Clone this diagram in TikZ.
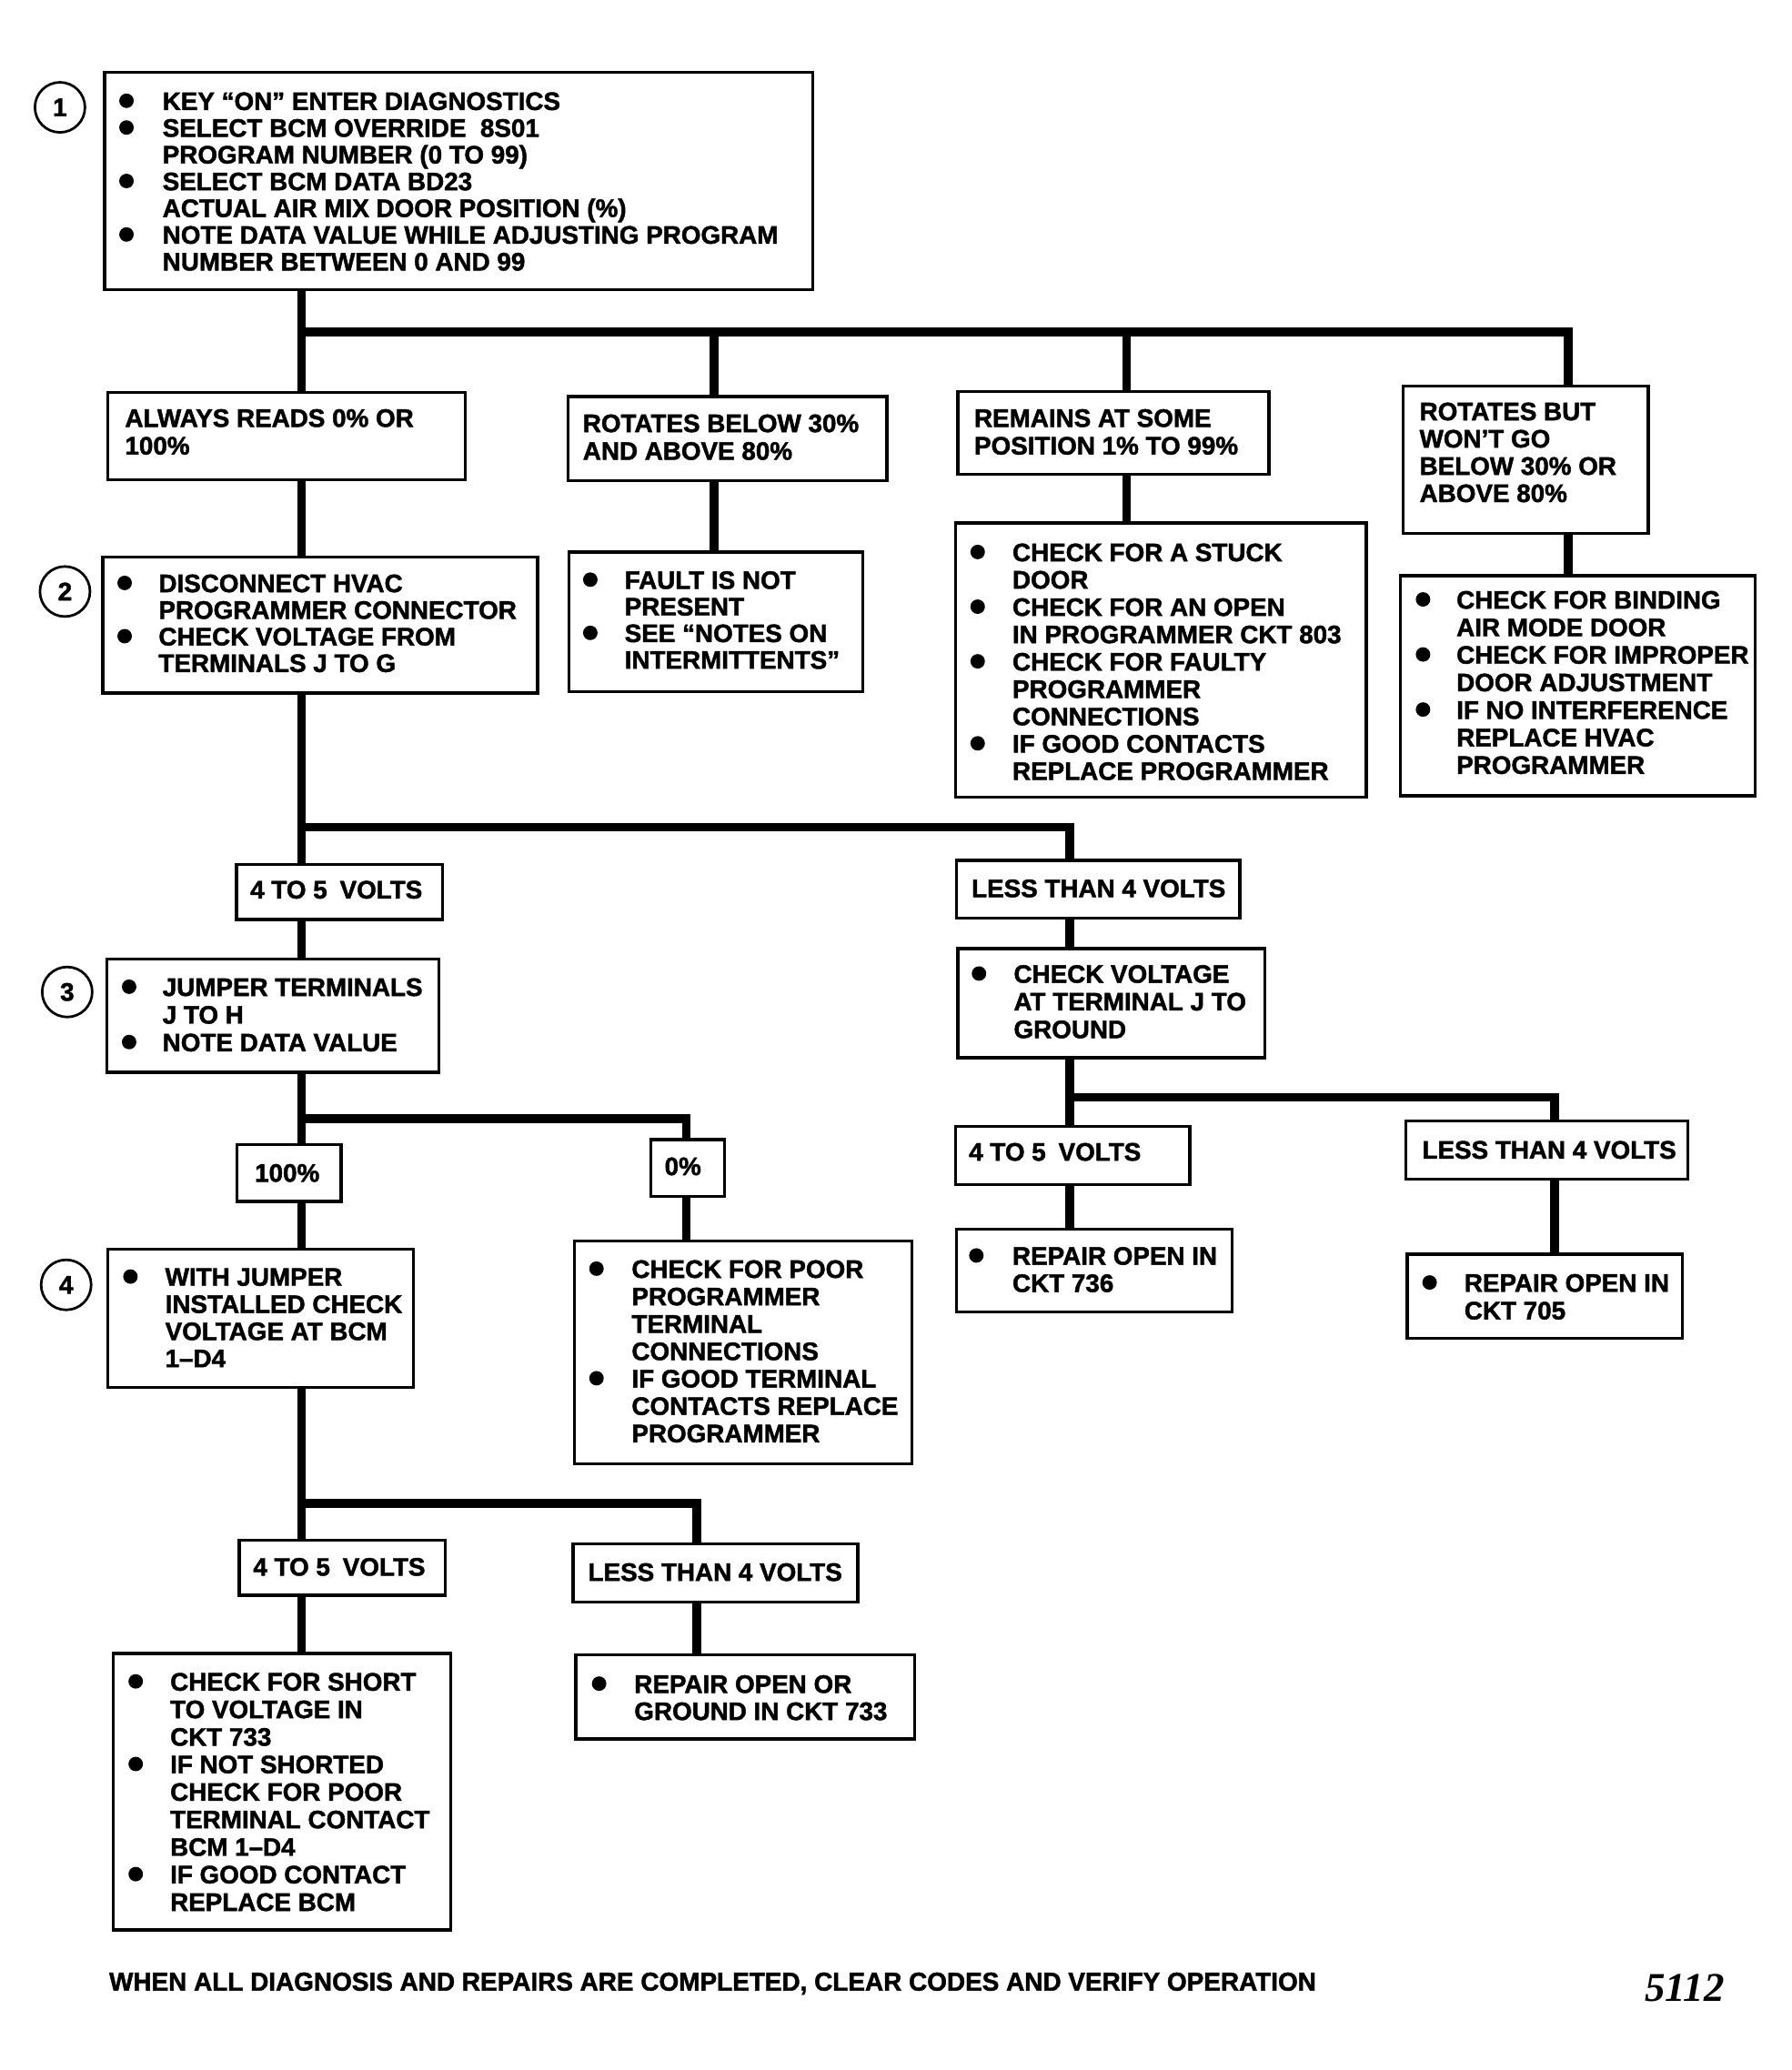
\documentclass[tikz,border=0pt]{standalone}
\usepackage{fontspec}
\setmainfont{Liberation Sans}[BoldFeatures={FakeBold=1.6}]
\newfontfamily\numfont{Liberation Serif}
\usepackage{graphicx}
\usetikzlibrary{fit}
\tikzset{
  boxn/.style={draw, line width=1.15pt, inner sep=0pt},
  conn/.style={line width=3.3pt},
  txt/.style={anchor=base west, inner sep=0pt},
  numc/.style={circle, draw, line width=0.95pt, minimum size=19pt, inner sep=0pt,
    font=\fontsize{9.6}{10}\selectfont\bfseries},
}
\newcommand\bx[5]{\node[boxn, fit={(#2,#3) (#4,#5)}] (#1) {};}
\newcommand\tb[5]{\node[txt, font=\fontsize{9.6}{#4}\selectfont\bfseries] (#1) at (#2,#3)
  {\begin{tabular}[t]{@{}l@{}}#5\end{tabular}};}
\newcommand\bu[4]{\foreach \k in {#4}{\fill (#1,{#2-7+\k*#3}) circle[radius=2.75pt];}}
\begin{document}
\begin{tikzpicture}[x=0.5pt,y=-0.5pt]
\path[fill=white, use as bounding box] (0,0) rectangle (1360,1571.3);

% ---- step 1
\bx{b1}{79.5}{55}{617}{220}
\tb{t1}{123}{83.5}{10.15pt}{KEY “ON” ENTER DIAGNOSTICS\\SELECT BCM OVERRIDE\ \ 8S01\\PROGRAM NUMBER (0 TO 99)\\SELECT BCM DATA BD23\\ACTUAL AIR MIX DOOR POSITION (\%)\\NOTE DATA VALUE WHILE ADJUSTING PROGRAM\\NUMBER BETWEEN 0 AND 99}
\bu{96}{83.5}{20.3}{0,1,3,5}
\node[numc] (n1) at (45.5,81.5) {1};

% ---- first branch
\bx{b2a}{82}{298}{353}{364}
\tb{t2a}{94.5}{324}{10.5pt}{ALWAYS READS 0\% OR\\100\%}
\bx{b2b}{431}{301}{673}{365}
\tb{t2b}{442}{328}{10.5pt}{ROTATES BELOW 30\%\\AND ABOVE 80\%}
\bx{b2c}{727}{297}{963}{360}
\tb{t2c}{739}{324}{10.5pt}{REMAINS AT SOME\\POSITION 1\% TO 99\%}
\bx{b2d}{1065}{293}{1251}{405}
\tb{t2d}{1077}{319}{10.35pt}{ROTATES BUT\\WON’T GO\\BELOW 30\% OR\\ABOVE 80\%}

% ---- step 2 row
\bx{b3a}{78}{423}{408}{526}
\tb{t3a}{120}{449.5}{10.1pt}{DISCONNECT HVAC\\PROGRAMMER CONNECTOR\\CHECK VOLTAGE FROM\\TERMINALS J TO G}
\bu{94.6}{449.5}{20.2}{0,2}
\node[numc] (n2) at (49.3,449) {2};
\bx{b3b}{432}{419}{655}{525}
\tb{t3b}{473.7}{447}{10.1pt}{FAULT IS NOT\\PRESENT\\SEE “NOTES ON\\INTERMITTENTS”}
\bu{448}{447}{20.2}{0,2}
\bx{b3c}{725}{397}{1037}{605}
\tb{t3c}{768}{426}{10.375pt}{CHECK FOR A STUCK\\DOOR\\CHECK FOR AN OPEN\\IN PROGRAMMER CKT 803\\CHECK FOR FAULTY\\PROGRAMMER\\CONNECTIONS\\IF GOOD CONTACTS\\REPLACE PROGRAMMER}
\bu{742}{426}{20.75}{0,2,4,7}
\bx{b3d}{1063}{437}{1332}{604}
\tb{t3d}{1105}{462}{10.45pt}{CHECK FOR BINDING\\AIR MODE DOOR\\CHECK FOR IMPROPER\\DOOR ADJUSTMENT\\IF NO INTERFERENCE\\REPLACE HVAC\\PROGRAMMER}
\bu{1080}{462}{20.9}{0,2,4}

% ---- voltage results
\bx{b4a}{179.5}{656}{336}{698}
\tb{t4a}{189.6}{682}{10pt}{4 TO 5\hspace{4.8pt}VOLTS}
\bx{b4b}{726}{653}{941}{697}
\tb{t4b}{737}{681}{10pt}{LESS THAN 4 VOLTS}

% ---- step 3 row
\bx{b5a}{81}{728}{333}{814}
\tb{t5a}{123}{756}{10.5pt}{JUMPER TERMINALS\\J TO H\\NOTE DATA VALUE}
\bu{98}{756}{21}{0,2}
\node[numc] (n3) at (51,753) {3};
\bx{b5b}{727}{720}{960}{803}
\tb{t5b}{769}{746}{10.5pt}{CHECK VOLTAGE\\AT TERMINAL J TO\\GROUND}
\bu{743}{746}{21}{0}

\bx{b6a}{725}{855}{903}{899}
\tb{t6a}{735}{881}{10pt}{4 TO 5\hspace{4.8pt}VOLTS}
\bx{b6b}{1067}{851}{1281}{895}
\tb{t6b}{1079}{879.5}{10pt}{LESS THAN 4 VOLTS}
\bx{b7a}{726}{933}{935}{996}
\tb{t7a}{768}{960}{10.35pt}{REPAIR OPEN IN\\CKT 736}
\bu{741}{960}{20.7}{0}
\bx{b7b}{1068}{952}{1277}{1016}
\tb{t7b}{1111}{980.5}{10.5pt}{REPAIR OPEN IN\\CKT 705}
\bu{1085}{980.5}{21}{0}

% ---- data value results
\bx{b8a}{180}{869}{259}{912}
\tb{t8a}{193}{897}{10pt}{100\%}
\bx{b8b}{494}{865}{550}{908}
\tb{t8b}{504}{892}{10pt}{0\%}

% ---- step 4 row
\bx{b9a}{82}{948}{314}{1053}
\tb{t9a}{125}{976}{10.3pt}{WITH JUMPER\\INSTALLED CHECK\\VOLTAGE AT BCM\\1–D4}
\bu{99}{976}{20.6}{0}
\node[numc] (n4) at (50.2,975.3) {4};
\bx{b9b}{436}{942}{692}{1111}
\tb{t9b}{479}{970}{10.4pt}{CHECK FOR POOR\\PROGRAMMER\\TERMINAL\\CONNECTIONS\\IF GOOD TERMINAL\\CONTACTS REPLACE\\PROGRAMMER}
\bu{452.7}{970}{20.8}{0,4}

\bx{b10a}{181.5}{1169}{338}{1211}
\tb{t10a}{191.8}{1196}{10pt}{4 TO 5\hspace{4.8pt}VOLTS}
\bx{b10b}{435}{1172}{651}{1216}
\tb{t10b}{446}{1200}{10pt}{LESS THAN 4 VOLTS}

\bx{b11a}{86}{1255}{342}{1465}
\tb{t11a}{128.8}{1283.3}{10.45pt}{CHECK FOR SHORT\\TO VOLTAGE IN\\CKT 733\\IF NOT SHORTED\\CHECK FOR POOR\\TERMINAL CONTACT\\BCM 1–D4\\IF GOOD CONTACT\\REPLACE BCM}
\bu{103}{1283.3}{20.9}{0,3,7}
\bx{b11b}{437}{1256}{694}{1320}
\tb{t11b}{481}{1285}{10.3pt}{REPAIR OPEN OR\\GROUND IN CKT 733}
\bu{454.7}{1285}{20.6}{0}

% ---- connectors
\coordinate (j1) at (229,252);
\coordinate (j1b) at (542,252);
\coordinate (j1c) at (855,252);
\coordinate (j1d) at (1190,252);
\draw[conn] (b1.south -| j1) -- (b2a.north -| j1);
\draw[conn] (j1) -- (j1d) -- (b2d.north -| j1d);
\draw[conn] (j1b) -- (b2b.north -| j1b);
\draw[conn] (j1c) -- (b2c.north -| j1c);
\draw[conn] (b2a.south -| j1) -- (b3a.north -| j1);
\draw[conn] (b2b.south -| j1b) -- (b3b.north -| j1b);
\draw[conn] (b2c.south -| j1c) -- (b3c.north -| j1c);
\draw[conn] (b2d.south -| j1d) -- (b3d.north -| j1d);

\coordinate (j2) at (229,628);
\coordinate (j2b) at (812,628);
\draw[conn] (b3a.south -| j2) -- (b4a.north -| j2);
\draw[conn] (j2) -- (j2b) -- (b4b.north -| j2b);
\draw[conn] (b4a.south -| j2) -- (b5a.north -| j2);
\draw[conn] (b4b.south -| j2b) -- (b5b.north -| j2b);

\coordinate (j5) at (812,833);
\coordinate (j5b) at (1180,833);
\draw[conn] (b5b.south -| j5) -- (b6a.north -| j5);
\draw[conn] (j5) -- (j5b) -- (b6b.north -| j5b);
\draw[conn] (b6a.south -| j5) -- (b7a.north -| j5);
\draw[conn] (b6b.south -| j5b) -- (b7b.north -| j5b);

\coordinate (j3) at (229,849);
\coordinate (j3b) at (521,849);
\draw[conn] (b5a.south -| j3) -- (b8a.north -| j3);
\draw[conn] (j3) -- (j3b) -- (b8b.north -| j3b);
\draw[conn] (b8a.south -| j3) -- (b9a.north -| j3);
\draw[conn] (b8b.south -| j3b) -- (b9b.north -| j3b);

\coordinate (j4) at (229,1141);
\coordinate (j4b) at (529,1141);
\draw[conn] (b9a.south -| j4) -- (b10a.north -| j4);
\draw[conn] (j4) -- (j4b) -- (b10b.north -| j4b);
\draw[conn] (b10a.south -| j4) -- (b11a.north -| j4);
\draw[conn] (b10b.south -| j4b) -- (b11b.north -| j4b);

% ---- footer
\node[txt] (foot) at (82.5,1511) {\resizebox{458pt}{6.85pt}{\fontsize{9.6}{10}\selectfont\bfseries WHEN ALL DIAGNOSIS AND REPAIRS ARE COMPLETED, CLEAR CODES AND VERIFY OPERATION}};
\node[txt] (fig) at (1248,1519) {\fontsize{15.5}{16}\selectfont\numfont\bfseries\itshape 5112};
\end{tikzpicture}
\end{document}
